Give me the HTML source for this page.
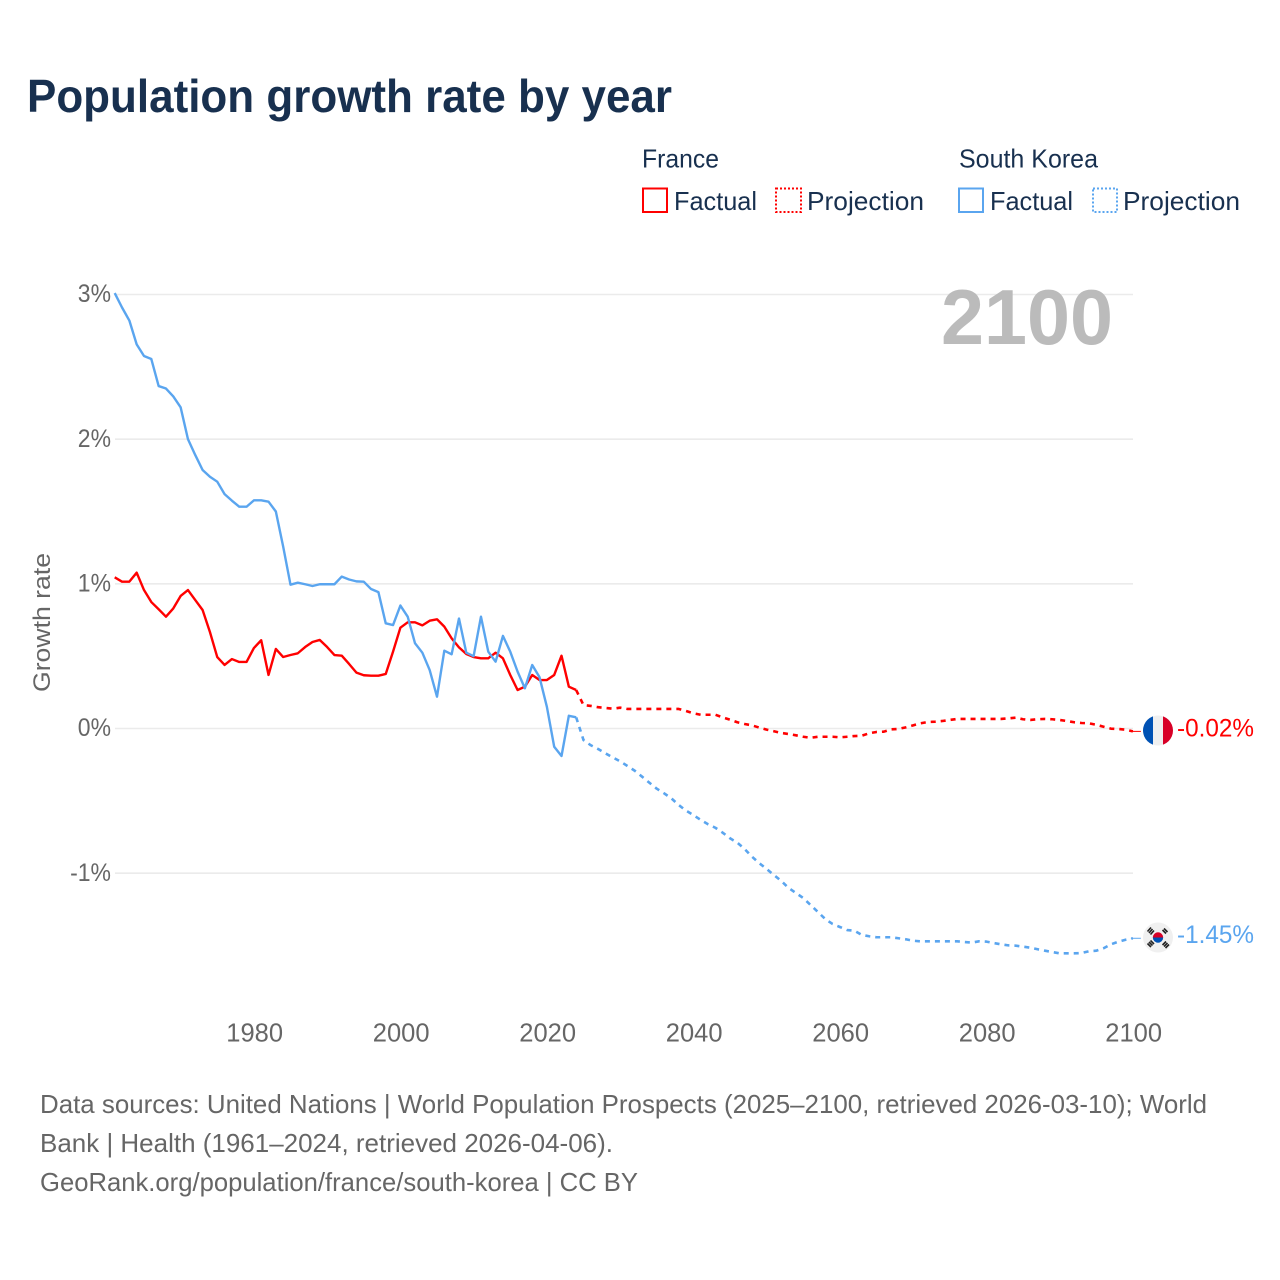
<!DOCTYPE html>
<html lang="en">
<head>
<meta charset="utf-8">
<title>Population growth rate by year</title>
<style>
  html, body { margin: 0; padding: 0; background: #fff; }
  svg { display: block; font-family: "Liberation Sans", sans-serif; }
</style>
</head>
<body>
<svg id="chart" xmlns="http://www.w3.org/2000/svg" width="1280" height="1280" viewBox="0 0 1280 1280">
  <rect x="0" y="0" width="1280" height="1280" fill="#ffffff"/>
  <text x="27" y="112" font-size="46.5" font-weight="700" fill="#18304f" textLength="645" lengthAdjust="spacingAndGlyphs">Population growth rate by year</text>

  <g font-size="26" fill="#18304f">
    <text x="642" y="167.5" textLength="77" lengthAdjust="spacingAndGlyphs">France</text>
    <rect x="643" y="188.5" width="24" height="23.5" fill="none" stroke="#ff0000" stroke-width="2"/>
    <text x="674" y="210" textLength="83" lengthAdjust="spacingAndGlyphs">Factual</text>
    <rect x="776" y="188.5" width="25" height="23.5" fill="none" stroke="#ff0000" stroke-width="2" stroke-dasharray="2 2"/>
    <text x="807" y="210" textLength="117" lengthAdjust="spacingAndGlyphs">Projection</text>
    <text x="959" y="167.5" textLength="139" lengthAdjust="spacingAndGlyphs">South Korea</text>
    <rect x="959" y="188.5" width="24" height="23.5" fill="none" stroke="#5aa5ef" stroke-width="2"/>
    <text x="990" y="210" textLength="83" lengthAdjust="spacingAndGlyphs">Factual</text>
    <rect x="1093" y="188.5" width="24" height="23.5" fill="none" stroke="#5aa5ef" stroke-width="2" stroke-dasharray="2 2"/>
    <text x="1123" y="210" textLength="117" lengthAdjust="spacingAndGlyphs">Projection</text>
  </g>

  <g id="grid"></g>
  <g id="yticks"></g>
  <g id="xticks"></g>
  <text transform="translate(50,622.5) rotate(-90)" text-anchor="middle" font-size="24.5" fill="#666666" textLength="139" lengthAdjust="spacingAndGlyphs">Growth rate</text>
  <text x="941" y="344" font-size="78" font-weight="700" fill="#bbbbbb" textLength="172" lengthAdjust="spacingAndGlyphs">2100</text>

  <g id="series"></g>

  <defs>
    <clipPath id="fr-clip"><circle cx="1158" cy="730.5" r="15"/></clipPath>
    <clipPath id="kr-clip"><circle cx="1158" cy="937.5" r="15"/></clipPath>
  </defs>
  <g clip-path="url(#fr-clip)">
    <rect x="1143" y="715" width="30" height="31" fill="#f0f0f0"/>
    <rect x="1143" y="715" width="10" height="31" fill="#0052b4"/>
    <rect x="1163" y="715" width="10" height="31" fill="#d80027"/>
  </g>
  <g clip-path="url(#kr-clip)">
    <rect x="1143" y="922" width="30" height="31" fill="#f0f0f0"/>
    <path d="M1152.8 937.5a5.2 5.2 0 0 1 10.4 0z" fill="#d80027"/>
    <path d="M1152.8 937.5a5.2 5.2 0 0 0 10.4 0z" fill="#0052b4"/>
    <g stroke="#222222" stroke-width="1.6" fill="none">
      <path d="M1147.5 931.5l3.5-4M1149 933l3.5-4M1150.5 934.5l3.5-4"/>
      <path d="M1162.5 930l3.5 3.5M1164 928.5l3.5 3.5"/>
      <path d="M1147.5 943.5l3.5 3.5M1149 942l3.5 3.5M1150.5 940.5l3.5 3.5"/>
      <path d="M1162.5 945l3.5-3.5M1164 946.5l3.5-3.5M1165.5 948l3.5-3.5"/>
    </g>
  </g>
  <text x="1177" y="736.5" font-size="25" fill="#ff0000" textLength="77" lengthAdjust="spacingAndGlyphs">-0.02%</text>
  <text x="1177" y="943" font-size="25" fill="#5aa5ef" textLength="77" lengthAdjust="spacingAndGlyphs">-1.45%</text>

  <g font-size="26" fill="#666666">
    <text x="40" y="1113" textLength="1167" lengthAdjust="spacingAndGlyphs">Data sources: United Nations | World Population Prospects (2025–2100, retrieved 2026-03-10); World</text>
    <text x="40" y="1152" textLength="573" lengthAdjust="spacingAndGlyphs">Bank | Health (1961–2024, retrieved 2026-04-06).</text>
    <text x="40" y="1191" textLength="598" lengthAdjust="spacingAndGlyphs">GeoRank.org/population/france/south-korea | CC BY</text>
  </g>
</svg>
<script>
// Data (annual growth rate, %)
const factualStartYear = 1961;
const projectionStartYear = 2025;
const xTickYears = [1980, 2000, 2020, 2040, 2060, 2080, 2100];
const yTickValues = [3, 2, 1, 0, -1];
const yTickLabels = ['3%', '2%', '1%', '0%', '-1%'];

const franceFactual = [
  1.045, 1.015, 1.015, 1.077, 0.957, 0.874, 0.824, 0.773, 0.83, 0.916,
  0.957, 0.888, 0.819, 0.667, 0.494, 0.439, 0.48, 0.46, 0.46, 0.556,
  0.61, 0.37, 0.55, 0.494, 0.508, 0.52, 0.563, 0.598, 0.612, 0.563,
  0.508, 0.503, 0.446, 0.386, 0.368, 0.365, 0.365, 0.377, 0.531, 0.697,
  0.734, 0.734, 0.713, 0.745, 0.755, 0.704, 0.623, 0.561, 0.515, 0.494,
  0.485, 0.485, 0.524, 0.485, 0.37, 0.266, 0.289, 0.37, 0.335, 0.335,
  0.37, 0.503, 0.289, 0.266
];
const koreaFactual = [
  3.01, 2.91, 2.82, 2.655, 2.575, 2.554, 2.367, 2.35, 2.295, 2.22,
  2.0, 1.89, 1.787, 1.74, 1.706, 1.62, 1.575, 1.533, 1.533, 1.577,
  1.577, 1.568, 1.5, 1.257, 0.994, 1.008, 0.997, 0.985, 0.997, 0.997,
  0.997, 1.05, 1.03, 1.017, 1.015, 0.964, 0.943, 0.727, 0.715, 0.85,
  0.773, 0.589, 0.524, 0.404, 0.22, 0.538, 0.513, 0.76, 0.524, 0.5,
  0.773, 0.531, 0.462, 0.64, 0.531, 0.393, 0.278, 0.439, 0.354, 0.15,
  -0.126, -0.19, 0.088, 0.077
];
const franceProjection = [
  0.162, 0.156, 0.147, 0.142, 0.137, 0.144, 0.135, 0.135, 0.135, 0.135,
  0.135, 0.135, 0.135, 0.135, 0.121, 0.105, 0.095, 0.095, 0.095, 0.077,
  0.061, 0.043, 0.031, 0.022, 0.006, -0.008, -0.019, -0.031, -0.038, -0.047,
  -0.057, -0.064, -0.057, -0.057, -0.057, -0.061, -0.057, -0.052, -0.05, -0.033,
  -0.024, -0.022, -0.006, -0.003, 0.008, 0.022, 0.036, 0.045, 0.047, 0.052,
  0.059, 0.066, 0.066, 0.066, 0.066, 0.066, 0.066, 0.066, 0.07, 0.075,
  0.064, 0.059, 0.064, 0.066, 0.064, 0.059, 0.052, 0.043, 0.038, 0.036,
  0.026, 0.012, -0.001, -0.003, -0.008, -0.02
];
const koreaProjection = [
  -0.08, -0.116, -0.142, -0.172, -0.2, -0.227, -0.259, -0.292, -0.333, -0.375,
  -0.416, -0.448, -0.483, -0.529, -0.568, -0.598, -0.632, -0.662, -0.686, -0.72,
  -0.759, -0.789, -0.833, -0.886, -0.931, -0.971, -1.013, -1.054, -1.102, -1.137,
  -1.172, -1.22, -1.268, -1.317, -1.351, -1.372, -1.393, -1.398, -1.427, -1.436,
  -1.443, -1.443, -1.443, -1.45, -1.457, -1.467, -1.471, -1.471, -1.471, -1.471,
  -1.471, -1.471, -1.476, -1.48, -1.471, -1.473, -1.483, -1.492, -1.499, -1.501,
  -1.508, -1.515, -1.526, -1.536, -1.545, -1.554, -1.554, -1.554, -1.552, -1.54,
  -1.536, -1.519, -1.492, -1.474, -1.46, -1.45
];

const NS = 'http://www.w3.org/2000/svg';
function xScale(year) { return 114.7 + (year - 1961) * 7.325; }
function yScale(v) { return 728.5 - v * 144.67; }
function make(parent, tag, attrs, text) {
  const el = document.createElementNS(NS, tag);
  for (const k in attrs) el.setAttribute(k, attrs[k]);
  if (text !== undefined) el.textContent = text;
  parent.appendChild(el);
  return el;
}
function pathFrom(points) {
  return points.map(function (p, i) {
    return (i ? 'L' : 'M') + xScale(p[0]).toFixed(2) + ' ' + yScale(p[1]).toFixed(2);
  }).join(' ');
}
function pointsFrom(start, values) {
  return values.map(function (v, i) { return [start + i, v]; });
}

const gridGroup = document.getElementById('grid');
const yGroup = document.getElementById('yticks');
const xGroup = document.getElementById('xticks');
const seriesGroup = document.getElementById('series');

yTickValues.forEach(function (v, i) {
  const line = make(gridGroup, 'line', { x1: 115, x2: 1133, y1: yScale(v), y2: yScale(v), stroke: '#ebebeb', 'stroke-width': 1.6 });
  
  
  const t = make(yGroup, 'text', { x: 111, y: yScale(v) + 7.7, 'text-anchor': 'end', 'font-size': 25, fill: '#666666' }, yTickLabels[i]);
  
  
  t.setAttribute('textLength', (t.getComputedTextLength() * 0.92).toFixed(1));
  t.setAttribute('lengthAdjust', 'spacingAndGlyphs');
});

xTickYears.forEach(function (yr) {
  const t = make(xGroup, 'text', { x: xScale(yr) + 0.8, y: 1041.5, 'text-anchor': 'middle', 'font-size': 25.5, fill: '#666666' }, String(yr));
  
  
});

function drawSeries(name, color, factual, projection) {
  const factualPts = pointsFrom(factualStartYear, factual);
  const projPts = pointsFrom(projectionStartYear, projection);
  const last = factualPts[factualPts.length - 1];
  const end = projPts[projPts.length - 1];

  const solid = make(seriesGroup, 'path', { d: pathFrom(factualPts), fill: 'none', stroke: color, 'stroke-width': 2.4, 'stroke-linejoin': 'round' });
  
  

  const dashed = make(seriesGroup, 'path', { d: pathFrom([last].concat(projPts)), fill: 'none', stroke: color, 'stroke-width': 2.6, 'stroke-dasharray': '5 5', 'stroke-linejoin': 'round' });
  
  

  const connector = make(seriesGroup, 'line', { x1: xScale(end[0]) - 2, x2: xScale(end[0]) + 8, y1: yScale(end[1]), y2: yScale(end[1]), stroke: color, 'stroke-width': 1 });
  
  
}
drawSeries('france', '#ff0000', franceFactual, franceProjection);
drawSeries('south-korea', '#5aa5ef', koreaFactual, koreaProjection);
</script>
</body>
</html>
